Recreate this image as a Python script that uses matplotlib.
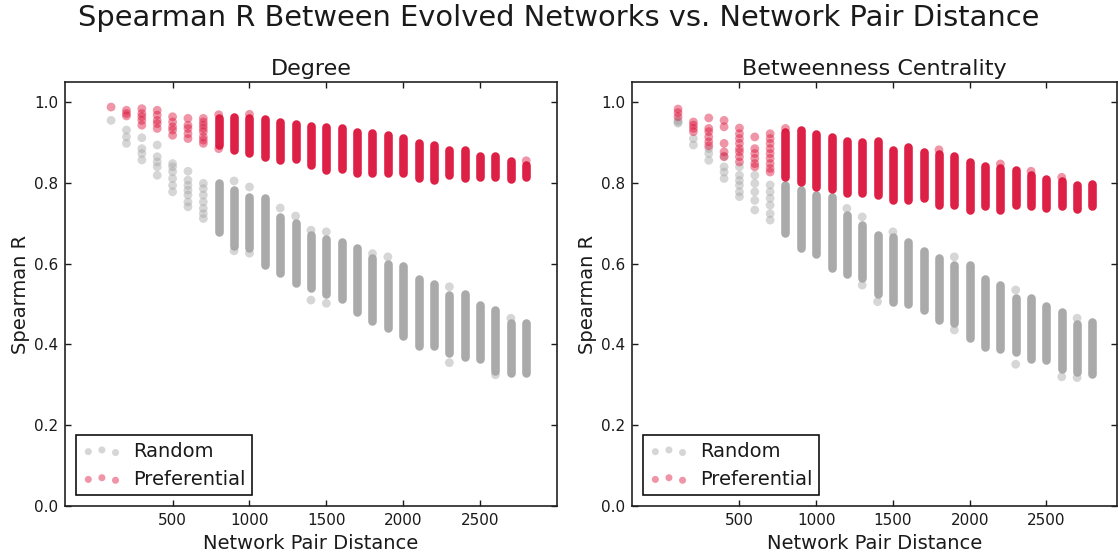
import matplotlib.pyplot as plt

dist = [100, 200, 300, 400, 500, 600, 700, 800, 900, 1000, 1100, 1200, 1300, 1400,
        1500, 1600, 1700, 1800, 1900, 2000, 2100, 2200, 2300, 2400, 2500, 2600, 2700, 2800]
xtick_vals = [500, 1000, 1500, 2000, 2500]
ytick_vals = [0.0, 0.2, 0.4, 0.6, 0.8, 1.0]

# ---- Degree ----
# dense part of each column (None = only separate points)
deg_rand_lo = [None] * 7 + [0.679, 0.645, 0.640, 0.596, 0.577, 0.552, 0.540, 0.525, 0.512,
                            0.480, 0.458, 0.442, 0.420, 0.397, 0.396, 0.380, 0.368, 0.363,
                            0.335, 0.330, 0.330]
deg_rand_hi = [None] * 7 + [0.799, 0.782, 0.766, 0.762, 0.716, 0.700, 0.670, 0.660, 0.655,
                            0.640, 0.615, 0.600, 0.595, 0.562, 0.551, 0.522, 0.524, 0.498,
                            0.485, 0.452, 0.454]
deg_rand_dots = {
    100: [0.955],
    200: [0.931, 0.914, 0.898],
    300: [0.912, 0.885, 0.873, 0.857],
    400: [0.894, 0.865, 0.852, 0.840, 0.819],
    500: [0.848, 0.840, 0.828, 0.811, 0.794, 0.778],
    600: [0.829, 0.807, 0.794, 0.782, 0.770, 0.753, 0.741],
    700: [0.799, 0.786, 0.770, 0.753, 0.737, 0.724, 0.712],
    900: [0.805, 0.632],
    1000: [0.790, 0.626],
    1200: [0.738],
    1300: [0.718],
    1400: [0.683, 0.510],
    1500: [0.679, 0.502],
    1800: [0.625],
    1900: [0.617],
    2300: [0.543, 0.355],
    2600: [0.325],
    2700: [0.465],
}

deg_pref_lo = [None] * 7 + [0.893, 0.881, 0.873, 0.865, 0.858, 0.859, 0.845, 0.833, 0.834,
                            0.824, 0.824, 0.824, 0.824, 0.812, 0.808, 0.820, 0.812, 0.816,
                            0.815, 0.809, 0.815]
deg_pref_hi = [None] * 7 + [0.960, 0.964, 0.962, 0.958, 0.950, 0.946, 0.942, 0.938, 0.936,
                            0.926, 0.923, 0.920, 0.912, 0.899, 0.893, 0.882, 0.882, 0.868,
                            0.868, 0.854, 0.845]
deg_pref_dots = {
    100: [0.988],
    200: [0.980, 0.972, 0.966],
    300: [0.984, 0.972, 0.964, 0.955, 0.943],
    400: [0.980, 0.968, 0.955, 0.947, 0.935],
    500: [0.964, 0.951, 0.939, 0.931, 0.918],
    600: [0.960, 0.943, 0.935, 0.922, 0.910],
    700: [0.960, 0.951, 0.943, 0.935, 0.927, 0.914, 0.906, 0.898],
    800: [0.969, 0.885],
    1000: [0.970],
    2800: [0.855],
}

# ---- Betweenness Centrality ----
btw_rand_lo = [None] * 7 + [0.675, 0.640, 0.625, 0.590, 0.575, 0.564, 0.526, 0.505, 0.500,
                            0.485, 0.460, 0.452, 0.415, 0.394, 0.390, 0.382, 0.365, 0.362,
                            0.340, 0.332, 0.326]
btw_rand_hi = [None] * 7 + [0.795, 0.782, 0.770, 0.765, 0.720, 0.696, 0.672, 0.665, 0.655,
                            0.632, 0.615, 0.598, 0.596, 0.562, 0.548, 0.515, 0.516, 0.496,
                            0.480, 0.450, 0.455]
btw_rand_dots = {
    100: [0.955, 0.951, 0.948],
    200: [0.910, 0.894],
    300: [0.885, 0.873, 0.856],
    400: [0.866, 0.840, 0.827, 0.811],
    500: [0.840, 0.819, 0.806, 0.794, 0.778, 0.766],
    600: [0.819, 0.799, 0.778, 0.757, 0.733],
    700: [0.795, 0.778, 0.762, 0.745, 0.724, 0.708],
    1200: [0.737],
    1300: [0.716, 0.547],
    1400: [0.506],
    1500: [0.679],
    1900: [0.617, 0.436],
    2300: [0.535, 0.351],
    2600: [0.320],
    2700: [0.465, 0.318],
}

btw_pref_lo = [None] * 7 + [0.815, 0.802, 0.790, 0.784, 0.775, 0.775, 0.771, 0.758, 0.758,
                            0.762, 0.746, 0.746, 0.733, 0.742, 0.733, 0.746, 0.742, 0.737,
                            0.742, 0.735, 0.742]
btw_pref_hi = [None] * 7 + [0.927, 0.930, 0.922, 0.914, 0.904, 0.902, 0.905, 0.882, 0.889,
                            0.876, 0.872, 0.866, 0.852, 0.843, 0.838, 0.833, 0.820, 0.810,
                            0.805, 0.794, 0.798]
btw_pref_dots = {
    100: [0.983, 0.974, 0.964],
    200: [0.951, 0.943, 0.935, 0.927],
    300: [0.961, 0.935, 0.927, 0.914, 0.902, 0.892],
    400: [0.955, 0.939, 0.898, 0.877, 0.865],
    500: [0.936, 0.922, 0.910, 0.898, 0.885, 0.877, 0.865, 0.852],
    600: [0.914, 0.885, 0.873, 0.861, 0.848, 0.840],
    700: [0.922, 0.910, 0.898, 0.885, 0.873, 0.861, 0.848, 0.836, 0.827],
    800: [0.935],
    1800: [0.882],
    2200: [0.847],
    2400: [0.829],
    2600: [0.814],
}

GRAY = '#a6a6a6'
RED = '#dc143c'
TXT = '#1a1a1a'

plt.rcParams['font.family'] = 'DejaVu Sans'
plt.rcParams['text.color'] = TXT
plt.rcParams['axes.labelcolor'] = TXT
plt.rcParams['xtick.color'] = TXT
plt.rcParams['ytick.color'] = TXT


def draw_series(ax, dots, lo, hi, color, label, z):
    xs = [x for x in dots for _ in dots[x]]
    ys = [y for x in dots for y in dots[x]]
    ax.scatter(xs, ys, s=40, c=color, alpha=0.45, edgecolors='none', label=label, zorder=z)
    bx = [x for x, l in zip(dist, lo) if l is not None]
    blo = [l for l in lo if l is not None]
    bhi = [h for h in hi if h is not None]
    lc = ax.vlines(bx, blo, bhi, colors=color, linewidth=6.2, alpha=0.95, zorder=z)
    lc.set_capstyle('round')


fig = plt.figure(figsize=(11.18, 5.56), dpi=100)
ax1 = fig.add_axes([0.0581, 0.0899, 0.4401, 0.7626])
ax2 = fig.add_axes([0.5653, 0.0899, 0.4338, 0.7626])

panels = [
    (ax1, 'Degree', deg_rand_dots, deg_rand_lo, deg_rand_hi,
     deg_pref_dots, deg_pref_lo, deg_pref_hi, (-200, 3000)),
    (ax2, 'Betweenness Centrality', btw_rand_dots, btw_rand_lo, btw_rand_hi,
     btw_pref_dots, btw_pref_lo, btw_pref_hi, (-200, 2960)),
]

for ax, title, rd, rlo, rhi, pd_, plo, phi, xl in panels:
    draw_series(ax, rd, rlo, rhi, GRAY, 'Random', 2)
    draw_series(ax, pd_, plo, phi, RED, 'Preferential', 3)
    ax.set_xlim(*xl)
    ax.set_ylim(0, 1.05)
    ax.set_xticks(xtick_vals)
    ax.set_yticks(ytick_vals)
    ax.tick_params(direction='in', top=True, right=True, length=4.5, width=1,
                   labelsize=11, pad=5)
    for sp in ax.spines.values():
        sp.set_linewidth(1.2)
        sp.set_color('#222222')
    ax.set_title(title, fontsize=16, pad=5)
    ax.set_xlabel('Network Pair Distance', fontsize=14, labelpad=4)
    ax.set_ylabel('Spearman R', fontsize=14, labelpad=2.5)
    leg = ax.legend(loc='lower left', scatterpoints=3,
                    scatteryoffsets=[0.375, 0.5, 0.3125], markerscale=0.8,
                    fontsize=14, fancybox=False, framealpha=1,
                    edgecolor='#111111', borderaxespad=0.55, handletextpad=0.6,
                    labelspacing=0.45, borderpad=0.35)
    leg.get_frame().set_linewidth(1.2)

fig.suptitle('Spearman R Between Evolved Networks vs. Network Pair Distance',
             fontsize=20.8, y=0.968, va='center')

fig.savefig('out.png', dpi=100, facecolor='white')
